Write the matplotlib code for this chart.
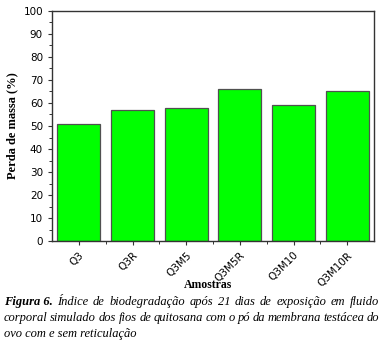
import numpy as np
import matplotlib
matplotlib.use("Agg")
import matplotlib.pyplot as plt
from matplotlib.ticker import MultipleLocator, FixedLocator

# data
amostras = ["Q3", "Q3R", "Q3M5", "Q3M5R", "Q3M10", "Q3M10R"]
perda = [51, 57, 58, 66, 59, 65]

caption_lines = [
    ["Índice", "de", "biodegradação", "após", "21", "dias", "de", "exposição", "em", "fluido"],
    ["corporal", "simulado", "dos", "fios", "de", "quitosana", "com", "o", "pó", "da",
     "membrana", "testácea", "do"],
]
caption_last = "ovo com e sem reticulação"

fig = plt.figure(figsize=(3.84, 3.47), dpi=100)
ax = fig.add_axes([52 / 384, 1 - 241 / 347, 322 / 384, 230 / 347])

x = np.arange(len(amostras))
ax.bar(x, perda, width=0.8, color="#00ff00", edgecolor="#505050", linewidth=0.9, zorder=2)

ax.set_xlim(-0.5, len(amostras) - 0.5)
ax.set_ylim(0, 100)
ax.yaxis.set_major_locator(MultipleLocator(10))
ax.yaxis.set_minor_locator(MultipleLocator(5))
ax.set_xticks(x)
ax.set_xticklabels(amostras, rotation=45, ha="right", rotation_mode="anchor", fontsize=7,
                   family="DejaVu Sans")
ax.xaxis.set_minor_locator(FixedLocator(np.arange(0.5, len(amostras) - 0.5, 1)))
ax.tick_params(axis="both", which="major", direction="out", length=3, width=0.8,
               top=False, right=False, labelsize=7.5, color="#333333")
ax.tick_params(axis="both", which="minor", direction="out", length=2, width=0.7,
               top=False, right=False, color="#333333")
for s in ax.spines.values():
    s.set_linewidth(1.0)
    s.set_color("#333333")

ax.set_ylabel("Perda de massa (%)", family="Liberation Serif", fontweight="bold", fontsize=9,
              labelpad=4)
fig.text(208 / 384, 1 - 285 / 347, "Amostras", family="Liberation Serif", fontweight="bold",
         fontsize=8.5, ha="center", va="center")

# caption, justified lines
left, right = 4, 379
fig.canvas.draw()
renderer = fig.canvas.get_renderer()
ys = [302, 318]
for i, words in enumerate(caption_lines):
    y = 1 - ys[i] / 347
    items = []
    if i == 0:
        items.append(("Figura 6.", "bold"))
    items += [(w, "normal") for w in words]
    texts = []
    for w, wt in items:
        t = fig.text(0, y, w, family="Liberation Serif", style="italic", fontweight=wt,
                     fontsize=9, va="center", ha="left")
        texts.append(t)
    widths = [t.get_window_extent(renderer).width for t in texts]
    gap = (right - left - sum(widths)) / (len(texts) - 1)
    pos = left
    for t, w in zip(texts, widths):
        t.set_x(pos / 384)
        pos += w + gap
fig.text(left / 384, 1 - 334 / 347, caption_last, family="Liberation Serif", style="italic",
         fontsize=9, va="center", ha="left")

fig.savefig("out.png", dpi=100)
